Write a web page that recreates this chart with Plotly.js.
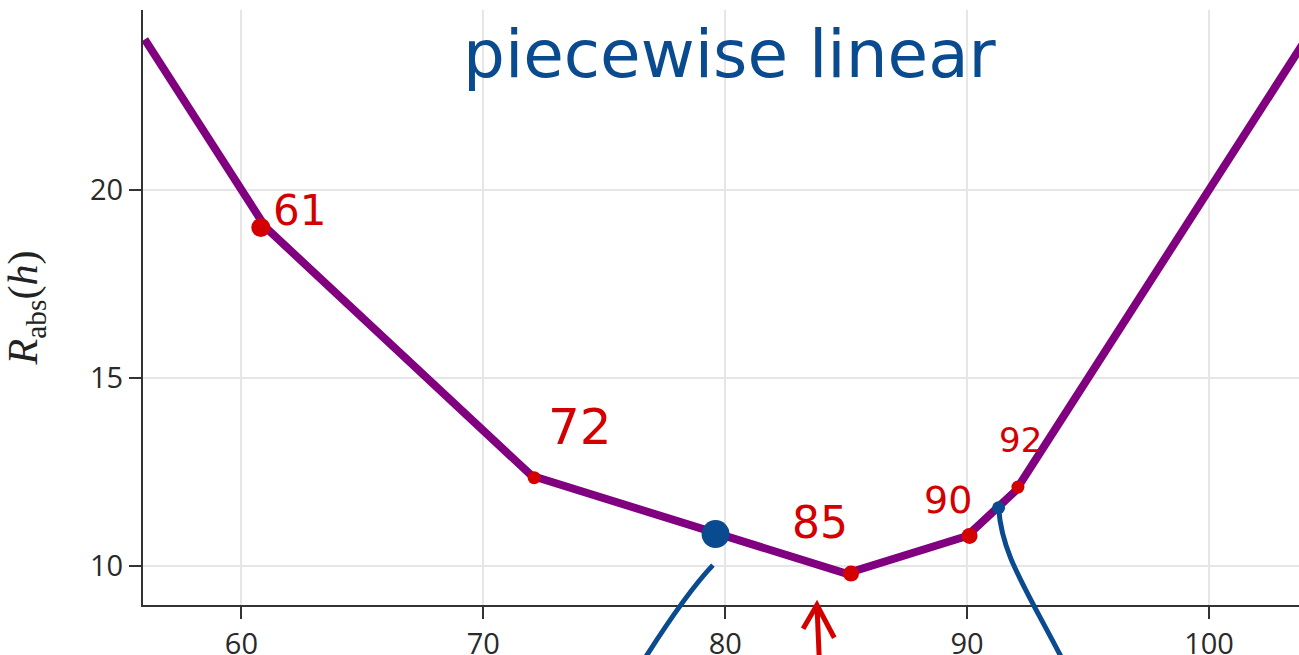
<!DOCTYPE html>
<html>
<head>
<meta charset="utf-8">
<script src="https://cdn.plot.ly/plotly-3.0.1.min.js"></script>
<style>html,body{margin:0;padding:0;overflow:hidden;background:#fff}#chart{width:1299px;height:655px}</style>
</head>
<body>
<div id="chart"></div>
<script>
// piecewise-linear curve R_abs(h), breakpoints
const h = [56, 61, 72, 85, 90, 92, 104];
const R = [24, 19, 12.4, 9.8, 10.8, 12, 24];

// hand-drawn red marks (data points) and their labels
const markH = [60.8, 72.1, 85.2, 90.1, 92.1];
const markR = [19.0, 12.35, 9.8, 10.8, 12.1];
const markLabels = ['61', '72', '85', '90', '92'];
const labelH = [62.4, 74.0, 83.9, 89.2, 92.2];
const labelR = [19.45, 13.7, 11.15, 11.75, 13.35];
const labelSize = [42, 50, 44, 38, 34];

// blue marks
const blueH = [79.6, 91.3];
const blueR = [10.85, 11.55];

const tickVals = [10, 15, 20];
const xTickVals = [60, 70, 80, 90, 100];

const RED = '#d40000';
const BLUE = '#0a4a8f';

const traces = [
  {x: h, y: R, type: 'scatter', mode: 'lines',
   line: {color: 'purple', width: 8}, hoverinfo: 'skip'},
  {x: markH, y: markR, type: 'scatter', mode: 'markers',
   marker: {color: RED, opacity: 1, size: [19, 13, 16, 16, 13], line: {width: 0}}, hoverinfo: 'skip'},
  {x: blueH, y: blueR, type: 'scatter', mode: 'markers',
   marker: {color: BLUE, opacity: 1, size: [28, 13], line: {width: 0}}, hoverinfo: 'skip'}
];

const annotations = markLabels.map((t, i) => ({
  x: labelH[i], y: labelR[i], xref: 'x', yref: 'y', text: t, showarrow: false,
  font: {family: 'DejaVu Sans', size: labelSize[i], color: RED}
}));
annotations.push({
  x: 0.508, y: 0.925, xref: 'paper', yref: 'paper', text: 'piecewise linear',
  showarrow: false, xanchor: 'center', yanchor: 'middle',
  font: {family: 'DejaVu Sans', size: 66, color: BLUE}
});

const shapes = [
  {type: 'path', xref: 'paper', yref: 'paper', layer: 'above',
   path: 'M0.493,0.067 Q0.47,0.02 0.434,-0.09',
   line: {color: BLUE, width: 5}},
  {type: 'path', xref: 'paper', yref: 'paper', layer: 'above',
   path: 'M0.740,0.168 C0.742,0.09 0.76,0.04 0.795,-0.09',
   line: {color: BLUE, width: 5}},
  {type: 'path', xref: 'paper', yref: 'paper', layer: 'above',
   path: 'M0.585,-0.09 L0.583,0.0 M0.571,-0.04 L0.583,0.0 L0.598,-0.055',
   line: {color: RED, width: 5}}
];

const axisCommon = {
  showline: true, linecolor: '#333', linewidth: 2,
  ticks: 'outside', ticklen: 12, tickwidth: 2, tickcolor: '#333',
  showgrid: true, gridcolor: '#e6e6e6', gridwidth: 2, zeroline: false,
  tickfont: {family: 'Open Sans, DejaVu Sans', size: 29, color: '#2a2a2a'}
};

const layout = {
  width: 1299, height: 655,
  margin: {l: 143, r: 0, t: 10, b: 50},
  paper_bgcolor: '#fff', plot_bgcolor: '#fff',
  showlegend: false,
  xaxis: Object.assign({}, axisCommon, {range: [55.93, 103.72], tickvals: xTickVals}),
  yaxis: Object.assign({}, axisCommon, {range: [8.965, 24.78], tickvals: tickVals,
    title: {text: '<i>R</i><sub>abs</sub>(<i>h</i>)', standoff: 40,
      font: {family: 'Liberation Serif', size: 42, color: '#222'}}}),
  annotations: annotations,
  shapes: shapes
};

Plotly.newPlot('chart', traces, layout, {displayModeBar: false, staticPlot: true});
</script>
</body>
</html>
